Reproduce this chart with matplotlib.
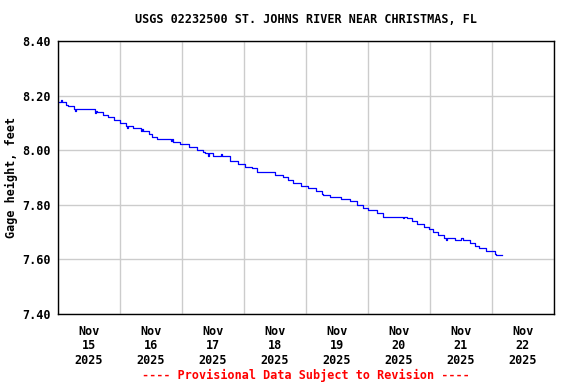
import matplotlib
matplotlib.use("Agg")
import matplotlib.pyplot as plt
from matplotlib.ticker import FixedLocator, FixedFormatter, FormatStrFormatter

# hours since Nov 15 2025 00:00 and gage height (ft)
hours = [0.0, 1.0, 1.6, 3.1, 3.75, 6.2, 6.6, 7.0, 14.3, 14.6, 15.1, 17.4, 19.4,
         21.7, 24.0, 26.3, 26.7, 27.2, 29.0, 32.0, 32.4, 32.9, 35.2, 36.4, 38.3,
         43.6, 44.0, 44.5, 47.2, 50.7, 53.8, 56.1, 56.9, 58.0, 58.4, 60.0, 63.0,
         63.4, 66.6, 69.7, 72.4, 75.1, 77.0, 84.0, 87.1, 89.0, 91.0, 94.1, 96.8,
         99.9, 102.2, 102.6, 105.3, 109.5, 113.0, 115.7, 118.1, 120.0, 123.5,
         125.8, 133.5, 133.9, 135.1, 137.0, 139.0, 141.7, 143.5, 145.0, 147.1,
         149.4, 150.2, 150.6, 153.7, 156.2, 156.6, 159.5, 161.4, 163.0, 165.7,
         169.2, 169.5, 172.0]
gage = [8.177, 8.185, 8.177, 8.167, 8.16, 8.15, 8.145, 8.15, 8.135, 8.145, 8.14,
        8.13, 8.12, 8.11, 8.10, 8.09, 8.08, 8.09, 8.082, 8.07, 8.077, 8.069,
        8.06, 8.05, 8.04, 8.035, 8.04, 8.03, 8.024, 8.01, 8.00, 7.995, 7.988,
        7.98, 7.988, 7.98, 7.985, 7.98, 7.96, 7.95, 7.94, 7.935, 7.92, 7.91,
        7.90, 7.89, 7.878, 7.87, 7.86, 7.85, 7.84, 7.835, 7.83, 7.82, 7.815,
        7.80, 7.79, 7.78, 7.77, 7.757, 7.75, 7.757, 7.75, 7.74, 7.73, 7.72,
        7.71, 7.70, 7.69, 7.68, 7.672, 7.68, 7.67, 7.677, 7.67, 7.66, 7.65,
        7.64, 7.63, 7.62, 7.617, 7.617]

day_labels = ["Nov\n15\n2025", "Nov\n16\n2025", "Nov\n17\n2025", "Nov\n18\n2025",
              "Nov\n19\n2025", "Nov\n20\n2025", "Nov\n21\n2025", "Nov\n22\n2025"]
y_ticks = [7.40, 7.60, 7.80, 8.00, 8.20, 8.40]

font = "DejaVu Sans Mono"
fig = plt.figure(figsize=(5.76, 3.84), dpi=100)
ax = fig.add_axes([0.1007, 0.1823, 0.861, 0.711])

ax.plot(hours, gage, color="#0000ff", linewidth=0.9, drawstyle="steps-post")

ax.set_xlim(0, 192)
ax.set_ylim(7.40, 8.40)
ax.xaxis.set_major_locator(FixedLocator([24 * i for i in range(9)]))
ax.xaxis.set_major_formatter(FixedFormatter([""] * 9))
ax.xaxis.set_minor_locator(FixedLocator([12 + 24 * i for i in range(8)]))
ax.xaxis.set_minor_formatter(FixedFormatter(day_labels))
ax.set_yticks(y_ticks)
ax.yaxis.set_major_formatter(FormatStrFormatter("%.2f"))

ax.grid(True, which="major", color="#cccccc", linewidth=1)
ax.set_axisbelow(True)
ax.tick_params(axis="x", which="both", length=0, pad=8)
ax.tick_params(axis="y", which="both", length=0, pad=5)
for lab in ax.get_xticklabels(minor=True) + ax.get_yticklabels():
    lab.set_fontfamily(font)
    lab.set_fontweight("bold")
    lab.set_fontsize(8.5)
for lab in ax.get_xticklabels(minor=True):
    lab.set_linespacing(1.12)
for sp in ax.spines.values():
    sp.set_linewidth(1.0)
    sp.set_color("black")

ax.set_ylabel("Gage height, feet", fontfamily=font, fontweight="bold", fontsize=8.5)
ax.yaxis.set_label_coords(-0.08, 0.5)
fig.text(0.531, 0.95, "USGS 02232500 ST. JOHNS RIVER NEAR CHRISTMAS, FL",
         ha="center", va="center", fontfamily=font, fontweight="bold", fontsize=8.5)
fig.text(0.531, 0.022, "---- Provisional Data Subject to Revision ----",
         ha="center", va="center", fontfamily=font, fontweight="bold", fontsize=8.5, color="red")

fig.savefig("out.png", dpi=100)
